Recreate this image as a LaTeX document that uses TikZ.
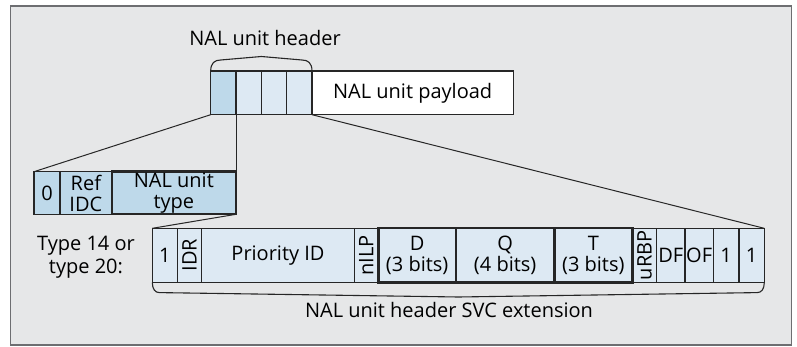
\documentclass[tikz,border=0pt]{standalone}
\usepackage{graphicx}
\usepackage{fontspec}
\setmainfont{Open Sans}
\usetikzlibrary{calc}
\definecolor{bggray}{HTML}{E6E7E8}
\definecolor{framegray}{HTML}{6D6E71}
\definecolor{midblue}{HTML}{BED9EA}
\definecolor{paleblue}{HTML}{DDE9F3}
\begin{document}
\begin{tikzpicture}[x=1pt,y=-1pt,
  txt/.style={font=\fontsize{20}{22.5}\selectfont, inner sep=0pt, align=center},
  cell/.style={draw=black!85, line width=1.1pt, inner sep=0pt, outer sep=0pt,
    anchor=north west, align=center, font=\fontsize{20}{21}\selectfont},
  dark/.style={cell, fill=midblue},
  pale/.style={cell, fill=paleblue},
  thick/.style={line width=2.4pt},
  link/.style={draw=black!85, line width=1pt},
  bracepath/.style={draw=black!85, line width=1.1pt, line join=round}
]
\useasboundingbox (0,0) rectangle (797,347);
% panel
\draw[draw=framegray, line width=1.3pt, fill=bggray] (10.7,6) rectangle (791.7,345);

% NAL unit header and payload
\node[dark, minimum width=25.3pt, minimum height=43.7pt] (h1) at (210.7,71) {};
\node[pale, minimum width=25.3pt, minimum height=43.7pt] (h2) at (236,71) {};
\node[pale, minimum width=25.4pt, minimum height=43.7pt] (h3) at (261.3,71) {};
\node[pale, minimum width=25.3pt, minimum height=43.7pt] (h4) at (286.7,71) {};
\node[cell, fill=white, minimum width=201.3pt, minimum height=43.7pt] (pay) at (312,71) {NAL unit payload};

% brace over the header bytes
\coordinate (tb) at ($(h1.north west)!0.5!(h4.north east)$);
\draw[bracepath] (h1.north west) .. controls +(0,-8) and +(-6,0) .. ++(10,-11)
  -- ([yshift=14.5pt]tb) -- ([xshift=-10pt,yshift=11pt]h4.north east)
  .. controls +(6,0) and +(0,-8) .. (h4.north east);
\node[txt] (hdr) at (265,38) {NAL unit header};

% first header byte
\node[dark, minimum width=26pt, minimum height=42.6pt] (f0) at (34,171.7) {0};
\node[dark, minimum width=51.7pt, minimum height=42.6pt] (ref) at (60,171.7) {Ref\\IDC};
\node[dark, thick, minimum width=124.3pt, minimum height=42.6pt] (typ) at (111.7,171.7) {NAL unit\\type};

% SVC extension
\node[txt] (lbl) at (86,257) {Type 14 or\\type 20:};
\node[pale, minimum width=25pt, minimum height=54pt] (e1) at (152.3,228.3) {1};
\node[pale, minimum width=24.4pt, minimum height=54pt] (e2) at (177.3,228.3) {\rotatebox{90}{IDR}};
\node[pale, minimum width=152.6pt, minimum height=54pt] (e3) at (201.7,228.3) {Priority ID};
\node[pale, minimum width=24pt, minimum height=54pt] (e4) at (354.3,228.3) {\rotatebox{90}{nILP}};
\node[pale, minimum width=24.4pt, minimum height=54pt] (e8) at (632.3,228.3) {\rotatebox{90}{uRBP}};
\node[pale, minimum width=28.3pt, minimum height=54pt] (e9) at (656.7,228.3) {DF};
\node[pale, minimum width=28.3pt, minimum height=54pt] (e10) at (685,228.3) {OF};
\node[pale, minimum width=25.7pt, minimum height=54pt] (e11) at (713.3,228.3) {1};
\node[pale, minimum width=25.3pt, minimum height=54pt] (e12) at (739,228.3) {1};
\node[pale, thick, minimum width=77.7pt, minimum height=54pt] (e5) at (378.3,228.3) {D\\(3 bits)};
\node[pale, thick, minimum width=98.3pt, minimum height=54pt] (e6) at (456,228.3) {Q\\(4 bits)};
\node[pale, thick, minimum width=78pt, minimum height=54pt] (e7) at (554.3,228.3) {T\\(3 bits)};

% brace under the extension
\coordinate (bb) at ($(e1.south west)!0.5!(e12.south east)$);
\draw[bracepath] (e1.south west) .. controls +(0,7) and +(-4,0) .. ++(7,10.3)
  -- ([yshift=-14.7pt]bb) -- ([xshift=-7pt,yshift=-10.3pt]e12.south east)
  .. controls +(4,0) and +(0,7) .. (e12.south east);
\node[txt] (ext) at (449,310) {NAL unit header SVC extension};

% expansion lines
\draw[link] (h1.south west) -- (f0.north west);
\draw[link] (h1.south east) -- (typ.north east);
\draw[link] (typ.south east) -- (e1.north west);
\draw[link] (h4.south east) -- (e12.north east);
\end{tikzpicture}
\end{document}
